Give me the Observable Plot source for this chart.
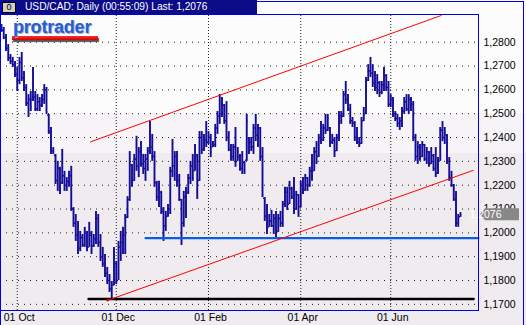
<!DOCTYPE html>
<html><head><meta charset="utf-8">
<script src="https://cdn.jsdelivr.net/npm/d3@7"></script>
<script src="https://cdn.jsdelivr.net/npm/@observablehq/plot@0.6"></script>
<style>
body{margin:0;background:#fff;}
#wrap{position:relative;width:526px;height:325px;overflow:hidden;
 background:linear-gradient(to bottom,#fcfcfc 0px,#fcfcfc 113px,#f6f4f6 113px,#f6f4f6 153px,#efebef 153px,#efebef 325px);
 font-family:"Liberation Sans",Arial,sans-serif;}
#wrap svg{position:absolute;left:0;top:0;}
.ov{position:absolute;}
#titlebar{left:0;top:0;width:257px;height:14px;background:#0c0c88;}
#btn{left:2px;top:2px;width:12px;height:9px;background:#d4d0c8;border:1px solid #000;font-size:9px;line-height:9px;text-align:center;color:#000;}
#title{left:25px;top:0;height:14px;line-height:14px;color:#fff;font-size:10.2px;white-space:nowrap;}
#topline{left:257px;top:1px;width:267px;height:1px;background:#0000e8;}
#rightline{left:523px;top:1px;width:1px;height:324px;background:#0000e8;}
#leftline{left:0;top:0;width:1px;height:325px;background:#0000e8;}
#frame{left:0;top:14px;width:479px;height:297px;box-sizing:border-box;border:1px solid #0000e8;}
#logo{left:13px;top:18px;font-size:18px;line-height:18px;font-weight:bold;color:#1f60d6;text-shadow:1px 1px 0 #b0b0c0;white-space:nowrap;letter-spacing:-0.2px;}
#logobar{left:12px;top:36px;width:86px;height:4px;background:linear-gradient(#ff3030,#d00000);box-shadow:1px 2px 1px #555;}
</style>
</head><body>
<div id="wrap">
  <div class="ov" id="titlebar"></div>
  <div class="ov" id="btn">0</div>
  <div class="ov" id="title">USD/CAD: Daily (00:55:09) Last: 1,2076</div>
  <div class="ov" id="topline"></div>
  <div class="ov" id="rightline"></div>
  <div class="ov" id="leftline"></div>
</div>
<script>
// ---- data ----
const highs = [
1.2874,1.2862,1.2832,1.2790,1.2748,1.2736,1.2719,1.2694,1.2736,1.2757,
1.2677,1.2622,1.2580,1.2593,1.2694,1.2593,1.2580,1.2568,1.2580,1.2622,
1.2610,1.2497,1.2442,1.2358,1.2329,1.2300,1.2275,1.2350,1.2258,1.2232,
1.2258,1.2279,1.2106,1.2077,1.2048,1.2006,1.1993,1.2023,1.2006,1.2044,
1.2006,1.1993,1.2090,1.2077,1.1993,1.1939,1.1909,1.1855,1.1825,1.1796,
1.1939,1.1880,1.1964,1.2006,1.2023,1.2077,1.2152,1.2341,1.2287,1.2329,
1.2405,1.2358,1.2383,1.2329,1.2329,1.2358,1.2467,1.2413,1.2341,1.2216,
1.2216,1.2174,1.2106,1.2090,1.2119,1.2275,1.2392,1.2341,1.2341,1.2245,
1.2140,1.2174,1.2191,1.2245,1.2300,1.2329,1.2371,1.2329,1.2425,1.2425,
1.2413,1.2467,1.2425,1.2413,1.2383,1.2455,1.2509,1.2580,1.2568,1.2539,
1.2551,1.2425,1.2371,1.2371,1.2442,1.2358,1.2329,1.2341,1.2300,1.2497,
1.2400,1.2400,1.2455,1.2497,1.2455,1.2442,1.2358,1.2148,1.2119,1.2077,
1.2094,1.2077,1.2090,1.2077,1.2090,1.2132,1.2191,1.2191,1.2216,1.2191,
1.2232,1.2174,1.2161,1.2216,1.2232,1.2245,1.2232,1.2275,1.2329,1.2358,
1.2383,1.2413,1.2467,1.2455,1.2497,1.2497,1.2442,1.2413,1.2400,1.2413,
1.2509,1.2509,1.2593,1.2635,1.2580,1.2539,1.2484,1.2467,1.2442,1.2400,
1.2484,1.2526,1.2652,1.2706,1.2736,1.2706,1.2677,1.2664,1.2635,1.2635,
1.2694,1.2664,1.2635,1.2580,1.2568,1.2509,1.2497,1.2484,1.2526,1.2568,
1.2580,1.2580,1.2568,1.2551,1.2413,1.2383,1.2371,1.2383,1.2371,1.2358,
1.2341,1.2358,1.2329,1.2358,1.2316,1.2442,1.2467,1.2442,1.2413,1.2316,
1.2258,1.2203,1.2174,1.2077,1.2085];
const lows = [
1.2841,1.2811,1.2761,1.2719,1.2706,1.2694,1.2652,1.2593,1.2622,1.2635,
1.2593,1.2530,1.2484,1.2509,1.2551,1.2509,1.2509,1.2509,1.2526,1.2539,
1.2497,1.2413,1.2329,1.2329,1.2203,1.2174,1.2161,1.2203,1.2174,1.2174,
1.2191,1.2090,1.2023,1.1964,1.1909,1.1921,1.1939,1.1939,1.1921,1.1939,
1.1909,1.1939,1.1951,1.1939,1.1880,1.1855,1.1813,1.1783,1.1750,1.1720,
1.1778,1.1783,1.1800,1.1880,1.1909,1.1909,1.2060,1.2132,1.2191,1.2216,
1.2258,1.2232,1.2275,1.2245,1.2216,1.2258,1.2329,1.2300,1.2191,1.2132,
1.2106,1.2077,1.1964,1.2006,1.2065,1.2077,1.2232,1.2216,1.2191,1.2132,
1.1947,1.2023,1.2060,1.2161,1.2203,1.2216,1.2258,1.2140,1.2216,1.2329,
1.2341,1.2358,1.2371,1.2316,1.2358,1.2358,1.2413,1.2455,1.2484,1.2455,
1.2383,1.2341,1.2300,1.2300,1.2275,1.2300,1.2258,1.2245,1.2245,1.2300,
1.2329,1.2341,1.2329,1.2383,1.2358,1.2300,1.2148,1.2048,1.1993,1.2023,
1.2023,1.1993,1.1981,1.2002,1.2023,1.2023,1.2106,1.2094,1.2119,1.2140,
1.2077,1.2094,1.2065,1.2106,1.2161,1.2174,1.2174,1.2191,1.2216,1.2258,
1.2287,1.2316,1.2371,1.2383,1.2413,1.2425,1.2358,1.2371,1.2316,1.2341,
1.2383,1.2455,1.2484,1.2539,1.2509,1.2455,1.2442,1.2383,1.2371,1.2358,
1.2371,1.2467,1.2497,1.2635,1.2652,1.2610,1.2593,1.2580,1.2568,1.2580,
1.2593,1.2593,1.2526,1.2526,1.2484,1.2467,1.2442,1.2430,1.2442,1.2497,
1.2509,1.2497,1.2509,1.2383,1.2300,1.2287,1.2300,1.2316,1.2300,1.2287,
1.2275,1.2287,1.2258,1.2232,1.2245,1.2300,1.2383,1.2371,1.2287,1.2216,
1.2191,1.2132,1.2023,1.2023,1.2065];
const opens = [
1.2868,1.2850,1.2820,1.2775,1.2735,1.2720,1.2705,1.2665,1.2640,1.2715,
1.2650,1.2610,1.2545,1.2560,1.2560,1.2570,1.2520,1.2550,1.2535,1.2560,
1.2600,1.2495,1.2425,1.2345,1.2325,1.2220,1.2270,1.2210,1.2240,1.2200,
1.2215,1.2240,1.2100,1.2040,1.1990,1.1935,1.1980,1.1950,1.2000,1.1940,
1.1990,1.1945,1.1975,1.2060,1.1960,1.1900,1.1870,1.1830,1.1800,1.1765,
1.1780,1.1870,1.1800,1.1940,1.1960,1.1990,1.2065,1.2140,1.2285,1.2220,
1.2310,1.2280,1.2340,1.2290,1.2270,1.2310,1.2345,1.2360,1.2320,1.2210,
1.2150,1.2170,1.2090,1.2030,1.2070,1.2100,1.2260,1.2280,1.2320,1.2220,
1.2140,1.2040,1.2150,1.2170,1.2230,1.2280,1.2260,1.2325,1.2220,1.2400,
1.2350,1.2390,1.2380,1.2400,1.2360,1.2370,1.2440,1.2490,1.2500,1.2535,
1.2470,1.2400,1.2350,1.2320,1.2360,1.2300,1.2320,1.2270,1.2295,1.2305,
1.2395,1.2380,1.2360,1.2440,1.2410,1.2440,1.2320,1.2145,1.2070,1.2025,
1.2050,1.2030,1.2060,1.2005,1.2060,1.2040,1.2120,1.2170,1.2120,1.2185,
1.2150,1.2100,1.2160,1.2110,1.2200,1.2180,1.2230,1.2200,1.2260,1.2260,
1.2340,1.2320,1.2400,1.2390,1.2440,1.2430,1.2440,1.2380,1.2390,1.2345,
1.2400,1.2490,1.2490,1.2580,1.2560,1.2520,1.2470,1.2460,1.2400,1.2380,
1.2375,1.2470,1.2500,1.2640,1.2680,1.2670,1.2630,1.2610,1.2630,1.2590,
1.2620,1.2660,1.2610,1.2540,1.2560,1.2500,1.2480,1.2460,1.2470,1.2510,
1.2550,1.2520,1.2560,1.2540,1.2400,1.2320,1.2360,1.2320,1.2370,1.2310,
1.2340,1.2290,1.2325,1.2270,1.2250,1.2300,1.2430,1.2400,1.2410,1.2300,
1.2230,1.2200,1.2140,1.2040,1.2068];
const closes = [
1.2850,1.2820,1.2775,1.2735,1.2720,1.2705,1.2665,1.2640,1.2715,1.2650,
1.2610,1.2545,1.2560,1.2530,1.2570,1.2520,1.2550,1.2535,1.2560,1.2600,
1.2505,1.2425,1.2345,1.2340,1.2220,1.2270,1.2180,1.2240,1.2200,1.2215,
1.2240,1.2100,1.2040,1.1990,1.1935,1.1980,1.1950,1.2010,1.1940,1.1990,
1.1930,1.1975,1.2060,1.1960,1.1900,1.1870,1.1830,1.1800,1.1765,1.1780,
1.1910,1.1800,1.1940,1.1960,1.1990,1.2060,1.2140,1.2300,1.2220,1.2310,
1.2280,1.2340,1.2290,1.2270,1.2310,1.2345,1.2360,1.2320,1.2210,1.2150,
1.2190,1.2090,1.2030,1.2070,1.2100,1.2260,1.2280,1.2320,1.2220,1.2140,
1.2040,1.2150,1.2170,1.2230,1.2280,1.2230,1.2350,1.2180,1.2400,1.2350,
1.2390,1.2380,1.2400,1.2340,1.2370,1.2440,1.2490,1.2500,1.2540,1.2470,
1.2400,1.2350,1.2320,1.2360,1.2300,1.2340,1.2270,1.2320,1.2260,1.2470,
1.2380,1.2360,1.2440,1.2410,1.2440,1.2320,1.2160,1.2070,1.2020,1.2050,
1.2030,1.2060,1.2000,1.2060,1.2040,1.2120,1.2170,1.2110,1.2200,1.2150,
1.2100,1.2160,1.2090,1.2200,1.2180,1.2230,1.2200,1.2260,1.2240,1.2340,
1.2300,1.2400,1.2390,1.2440,1.2430,1.2480,1.2380,1.2390,1.2330,1.2400,
1.2490,1.2470,1.2580,1.2560,1.2520,1.2470,1.2460,1.2400,1.2380,1.2370,
1.2470,1.2500,1.2640,1.2680,1.2670,1.2630,1.2610,1.2650,1.2590,1.2620,
1.2680,1.2610,1.2540,1.2560,1.2500,1.2480,1.2460,1.2470,1.2510,1.2550,
1.2520,1.2560,1.2540,1.2400,1.2320,1.2360,1.2320,1.2370,1.2310,1.2340,
1.2290,1.2340,1.2270,1.2250,1.2300,1.2430,1.2400,1.2420,1.2300,1.2230,
1.2200,1.2140,1.2040,1.2060,1.2076];

// month tick labels, placed at the bar index of the first trading day of the month
const monthLabels = ["01 Oct", "01 Dec", "01 Feb", "01 Apr", "01 Jun"];
const monthIdx = [7, 51, 92, 133, 173];
// price axis ticks
const priceTicks = [1.17, 1.18, 1.19, 1.20, 1.21, 1.22, 1.23, 1.24, 1.25, 1.26, 1.27, 1.28];
// drawn analysis lines (bar index, price)
const upperChannelI = [39.6, 195.4];
const upperChannelV = [1.2382, 1.2912];
const lowerChannelI = [47.2, 209.6];
const lowerChannelV = [1.1717, 1.2262];
const supportI = [64, 212];
const supportV = [1.1978, 1.1978];
const floorI = [38.7, 209.8];
const floorV = [1.1722, 1.1722];
const lastPrice = 1.2076;

// ---- build tables ----
const bars = highs.map((h, i) => ({i, h, l: lows[i], o: opens[i], c: closes[i]}));
const pts = (I, V) => I.map((i, k) => ({i, v: V[k]}));
const upper = pts(upperChannelI, upperChannelV);
const lower = pts(lowerChannelI, lowerChannelV);
const support = pts(supportI, supportV);
const floorL = pts(floorI, floorV);
const labelOf = new Map(monthIdx.map((d, k) => [d, monthLabels[k]]));
const fmt = d => d.toFixed(4).replace(".", ",");

const navy = "#140c96";
const plot = Plot.plot({
  width: 526, height: 325,
  marginLeft: 0, marginRight: 48, marginTop: 15, marginBottom: 14,
  x: {domain: [0, 212], range: [1, 478], label: null},
  y: {domain: [1.1670, 1.2912], label: null},
  style: {background: "transparent", fontFamily: "'Liberation Sans', Arial, sans-serif", fontSize: "10.5px", color: "#000", overflow: "visible"},
  marks: [
    Plot.gridY(priceTicks, {stroke: "#222", strokeOpacity: 1, strokeDasharray: "1,5"}),
    Plot.gridX(monthIdx, {stroke: "#222", strokeOpacity: 1, strokeDasharray: "1,2"}),
    Plot.axisY(priceTicks, {anchor: "right", label: null, tickSize: 0, tickPadding: 5, tickFormat: fmt, fill: "#000"}),
    Plot.axisX(monthIdx, {anchor: "bottom", label: null, tickSize: 0, tickPadding: 2, tickFormat: d => labelOf.get(d), dx: 2, fill: "#000"}),
    Plot.ruleX(bars, {x: "i", y1: "l", y2: "h", stroke: navy, strokeWidth: 1.9}),
    Plot.ruleY(bars, {y: "o", x1: d => d.i - 0.5, x2: "i", stroke: navy, strokeWidth: 1.5}),
    Plot.ruleY(bars, {y: "c", x1: "i", x2: d => d.i + 0.5, stroke: navy, strokeWidth: 1.5}),
    Plot.line(floorL, {x: "i", y: "v", stroke: "#000", strokeWidth: 2.5}),
    Plot.line(support, {x: "i", y: "v", stroke: "#0a5ce6", strokeWidth: 2.2}),
    Plot.line(upper, {x: "i", y: "v", stroke: "#ff0000", strokeWidth: 1}),
    Plot.line(lower, {x: "i", y: "v", stroke: "#ff0000", strokeWidth: 1}),
    Plot.dot([lower[0]], {x: "i", y: "v", r: 1.3, fill: "#ff0000"})
  ]
});

// current price tag placed with the plot's y scale
const yTag = plot.scale("y").apply(lastPrice);
const svg = d3.select(plot);
svg.append("path")
  .attr("d", `M480,${yTag} L485,${yTag - 6} L519,${yTag - 6} L519,${yTag + 6} L485,${yTag + 6} Z`)
  .attr("fill", "#888888");
svg.append("text")
  .attr("x", 485.5).attr("y", yTag).attr("dy", "0.36em")
  .attr("fill", "#ffffff").attr("font-size", "10.5px")
  .text(fmt(lastPrice));

const wrap = document.getElementById("wrap");
wrap.insertBefore(plot, wrap.firstChild);

// decorations on top
const frame = document.createElement("div");
frame.className = "ov"; frame.id = "frame";
wrap.appendChild(frame);
const logo = document.createElement("div");
logo.className = "ov"; logo.id = "logobar";
wrap.appendChild(logo);
const logoT = document.createElement("div");
logoT.className = "ov"; logoT.id = "logo"; logoT.textContent = "protrader";
wrap.appendChild(logoT);
</script>
</body></html>
